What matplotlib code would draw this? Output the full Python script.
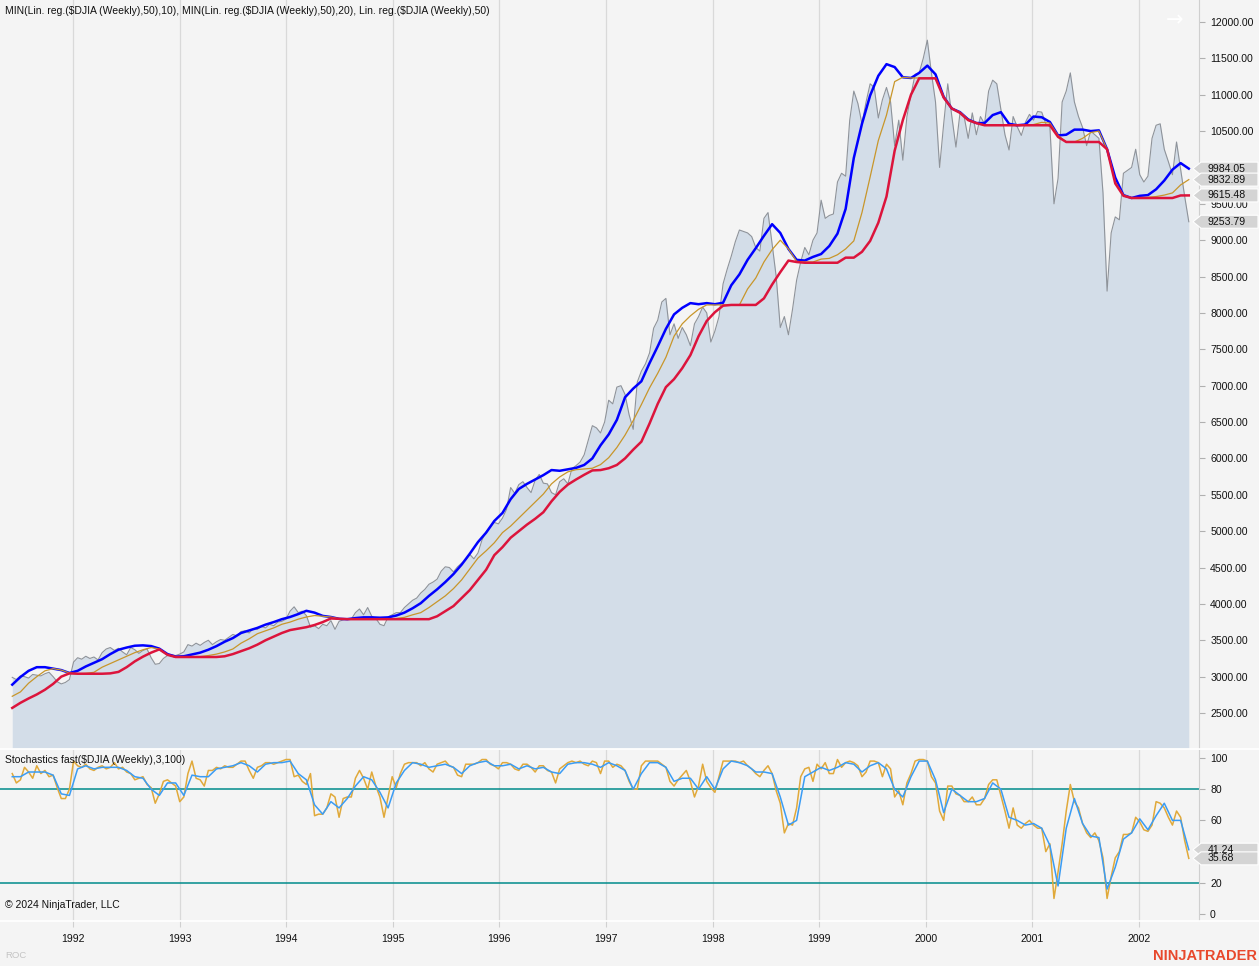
import matplotlib
matplotlib.use('Agg')
import matplotlib.pyplot as plt
import matplotlib.dates as mdates
import matplotlib.transforms as mtransforms
from matplotlib.patches import Polygon
from matplotlib.lines import Line2D
import numpy as np
import pandas as pd

plt.rcParams['font.family'] = ['Liberation Sans', 'DejaVu Sans']

price = [
    2990, 2960, 3010, 3000, 2980, 3030, 3020, 3010, 3040, 3060, 3000, 2930, 2900, 2920, 2960,
    # 1992
    3200, 3260, 3240, 3280, 3250, 3270, 3230, 3330, 3380, 3400, 3360, 3390, 3340,
    3300, 3400, 3370, 3320, 3360, 3380, 3260, 3170, 3180, 3250, 3290, 3300, 3290,
    # 1993
    3310, 3340, 3440, 3420, 3460, 3430, 3470, 3500, 3440, 3480, 3510, 3500, 3540, 3580,
    3560, 3620, 3630, 3600, 3660, 3650, 3690, 3670, 3720, 3700, 3750, 3760, 3790,
    # 1994
    3900, 3960, 3880, 3900, 3840, 3680, 3700, 3660, 3720, 3700, 3770, 3650, 3760,
    3780, 3800, 3790, 3880, 3930, 3850, 3950, 3830, 3800, 3720, 3700, 3820, 3850,
    # 1995
    3880, 3880, 3950, 4000, 4050, 4080, 4150, 4200, 4270, 4300, 4340, 4450, 4510,
    4500, 4440, 4510, 4560, 4600, 4680, 4620, 4700, 4880, 4990, 5060, 5120, 5100,
    # 1996
    5180, 5300, 5600, 5520, 5640, 5680, 5600, 5530, 5700, 5780, 5660, 5650, 5530,
    5500, 5680, 5720, 5650, 5860, 5900, 5950, 6050, 6250, 6450, 6420, 6350, 6500,
    # 1997
    6800, 6750, 6980, 7000, 6880, 6600, 6400, 7050, 7200, 7300, 7450, 7790, 7900,
    8150, 8200, 7700, 7850, 7650, 7800, 7700, 7550, 7850, 7950, 8080, 8000, 7600,
    # 1998
    7750, 7950, 8400, 8600, 8780, 8980, 9140, 9120, 9100, 9050, 8900, 8850, 9300,
    9380, 8950, 8500, 7800, 7950, 7700, 8050, 8450, 8700, 8900, 8800, 9000, 9100,
    # 1999
    9550, 9300, 9340, 9360, 9800, 9920, 9880, 10650, 11050, 10880, 10600, 10900, 11150,
    11100, 10680, 10930, 11100, 10900, 10300, 10650, 10100, 10700, 11000, 11280, 11300, 11500,
    # 2000
    11750, 11300, 10900, 10000, 10600, 11150, 10700, 10280, 10750, 10700, 10400, 10750, 10450,
    10700, 10600, 11050, 11200, 11150, 10800, 10450, 10240, 10700, 10560, 10440, 10620, 10730,
    # 2001
    10650, 10770, 10760, 10600, 10560, 9500, 9850, 10900, 11050, 11300, 10900, 10700, 10550,
    10300, 10500, 10450, 10400, 9650, 8300, 9100, 9320, 9280, 9920, 9960, 10000, 10250,
    # 2002
    9900, 9800, 9880, 10400, 10580, 10600, 10250, 10080, 9900, 10350, 9980, 9600, 9253.79,
]

# indicator lines, sampled every 4 weeks
linreg = [
    2890, 2995, 3080, 3130, 3130, 3110, 3090, 3050, 3080, 3140,
    3190, 3240, 3310, 3370, 3400, 3425, 3430, 3420, 3385, 3310,
    3275, 3280, 3305, 3330, 3370, 3420, 3480, 3530, 3600, 3635,
    3670, 3715, 3750, 3790, 3820, 3860, 3905, 3880, 3835, 3820,
    3795, 3790, 3805, 3815, 3815, 3810, 3815, 3840, 3880, 3940,
    4010, 4110, 4200, 4300, 4410, 4540, 4690, 4850, 4980, 5140,
    5250, 5440, 5580, 5650, 5710, 5770, 5840, 5830, 5850, 5870,
    5910, 6000, 6180, 6330, 6530, 6840, 6960, 7060, 7310, 7540,
    7780, 7980, 8070, 8135, 8120, 8135, 8120, 8140, 8380, 8530,
    8730, 8890, 9060, 9220, 9100, 8880, 8730, 8720, 8770, 8810,
    8920, 9090, 9430, 10130, 10600, 10990, 11260, 11420, 11380, 11240,
    11230, 11300, 11400, 11280, 10970, 10810, 10760, 10660, 10610, 10610,
    10720, 10760, 10600, 10580, 10590, 10700, 10690, 10625, 10440, 10450,
    10520, 10520, 10500, 10510, 10250, 9860, 9620, 9580, 9610, 9620,
    9700, 9820, 9970, 10060, 9984.05,
]
min10 = [
    2730, 2790, 2910, 3000, 3080, 3110, 3090, 3050, 3040, 3045,
    3060, 3130, 3180, 3230, 3280, 3330, 3370, 3400, 3380, 3300,
    3270, 3270, 3270, 3275, 3290, 3310, 3340, 3380, 3460, 3520,
    3590, 3630, 3670, 3720, 3750, 3790, 3820, 3840, 3830, 3820,
    3795, 3790, 3790, 3790, 3790, 3795, 3795, 3800, 3815, 3850,
    3880, 3950, 4030, 4110, 4210, 4330, 4480, 4630, 4730, 4840,
    4980, 5070, 5180, 5290, 5400, 5510, 5650, 5745, 5815, 5845,
    5855, 5865, 5915, 6010, 6150, 6320, 6520, 6740, 6970, 7170,
    7390, 7680, 7850, 7960, 8050, 8110, 8110, 8110, 8110, 8110,
    8330, 8480, 8700, 8870, 9000, 8880, 8710, 8700, 8700, 8740,
    8750, 8800, 8880, 8990, 9380, 9870, 10370, 10720, 11180, 11240,
    11230, 11230, 11230, 11230, 10970, 10810, 10760, 10660, 10610, 10580,
    10580, 10580, 10580, 10580, 10580, 10590, 10620, 10610, 10440, 10350,
    10350, 10400, 10480, 10500, 10250, 9800, 9620, 9580, 9580, 9590,
    9600, 9620, 9650, 9760, 9832.89,
]
min20 = [
    2570, 2640, 2700, 2755, 2820, 2900, 3000, 3045, 3040, 3040,
    3040, 3040, 3045, 3065, 3130, 3210, 3275, 3330, 3375, 3300,
    3270, 3270, 3270, 3270, 3270, 3270, 3280, 3310, 3350, 3390,
    3440, 3500, 3550, 3600, 3640, 3660, 3680, 3710, 3750, 3800,
    3795, 3790, 3790, 3790, 3790, 3790, 3790, 3790, 3790, 3790,
    3790, 3790, 3830, 3900, 3970, 4080, 4190, 4330, 4470, 4670,
    4780, 4910, 5000, 5090, 5170, 5260, 5410, 5540, 5640, 5710,
    5775, 5835, 5840, 5865, 5910, 6000, 6120, 6230, 6480, 6750,
    6980, 7090, 7240, 7420, 7680, 7890, 8010, 8100, 8110, 8110,
    8110, 8110, 8200, 8390, 8560, 8720, 8700, 8690, 8690, 8690,
    8690, 8690, 8760, 8760, 8840, 8990, 9240, 9600, 10230, 10650,
    11000, 11225, 11225, 11225, 10960, 10810, 10750, 10650, 10610, 10580,
    10580, 10580, 10580, 10580, 10580, 10580, 10580, 10580, 10420, 10350,
    10350, 10350, 10350, 10350, 10250, 9780, 9610, 9580, 9580, 9580,
    9580, 9580, 9580, 9615, 9615.48,
]

# stochastics fast: K every 2 weeks, D every 4 weeks
stoch_k = [
    90, 84, 86, 94, 91, 87, 95, 90, 92, 88, 89, 81, 74, 74, 80,
    98, 95, 94, 96, 93, 92, 94, 95, 93, 94, 97, 93, 94, 91, 90, 86, 87, 88, 83, 81, 71, 77, 85, 86, 84, 82,
    72, 75, 90, 98, 87, 86, 82, 92, 92, 94, 93, 95, 94, 94, 96, 98, 98, 92, 87, 94, 95, 97, 97, 96, 97, 98, 99,
    99, 88, 89, 85, 83, 90, 63, 64, 64, 68, 77, 75, 62, 74, 75, 75, 87, 92, 87, 80, 91, 82, 75, 62, 75, 88,
    81, 90, 96, 97, 97, 97, 95, 97, 93, 91, 96, 97, 98, 95, 94, 89, 88, 96, 96, 96, 97, 99, 99, 96, 95, 93,
    97, 97, 96, 93, 92, 96, 96, 94, 91, 95, 95, 92, 91, 84, 93, 95, 97, 98, 97, 98, 96, 95, 98, 97, 90, 98,
    98, 94, 96, 95, 92, 85, 80, 80, 95, 98, 98, 98, 98, 96, 94, 85, 82, 86, 89, 92, 85, 75, 82, 96, 85, 81,
    78, 88, 98, 98, 98, 98, 97, 98, 95, 93, 90, 88, 92, 95, 90, 79, 71, 52, 58, 57, 68, 88, 93, 94, 85, 96,
    93, 97, 90, 90, 99, 94, 97, 98, 97, 95, 88, 91, 98, 98, 97, 88, 96, 93, 75, 79, 70, 84, 90, 98, 99, 99,
    98, 88, 84, 66, 60, 82, 82, 77, 76, 72, 72, 75, 70, 70, 74, 83, 86, 86, 76, 66, 55, 68, 57, 55, 58, 60,
    57, 55, 55, 40, 45, 10, 27, 45, 66, 83, 72, 68, 58, 52, 49, 52, 47, 36, 10, 24, 36, 40, 51, 51, 52, 62,
    59, 54, 53, 57, 72, 71, 68, 62, 57, 66, 62, 47, 35.68,
]
stoch_d = [
    88, 88, 91, 91, 91, 89, 77, 76, 93, 95,
    93, 94, 94, 94, 92, 88, 87, 80, 76, 84,
    84, 76, 89, 88, 88, 93, 94, 95, 97, 95,
    91, 96, 97, 97, 98, 90, 86, 70, 64, 72,
    68, 74, 82, 88, 86, 78, 68, 84, 92, 97,
    96, 94, 95, 96, 94, 90, 95, 97, 98, 95,
    95, 96, 93, 95, 93, 94, 91, 90, 96, 97,
    97, 96, 94, 97, 95, 92, 80, 90, 97, 97,
    94, 85, 87, 87, 80, 88, 80, 93, 98, 97,
    95, 91, 91, 90, 75, 57, 60, 88, 91, 94,
    92, 94, 97, 96, 91, 95, 97, 93, 80, 75,
    88, 98, 98, 86, 65, 80, 76, 72, 72, 74,
    84, 80, 62, 60, 57, 58, 55, 44, 18, 55,
    74, 58, 50, 49, 16, 30, 48, 52, 61, 54,
    63, 71, 60, 60, 41.24,
]

title_top = ("MIN(Lin. reg.($DJIA (Weekly),50),10), MIN(Lin. reg.($DJIA (Weekly),50),20), "
             "Lin. reg.($DJIA (Weekly),50)")
title_bottom = "Stochastics fast($DJIA (Weekly),3,100)"

dates = pd.date_range(end='2002-06-21', periods=len(price), freq='14D')
dates4 = dates[::2]

BG = '#f4f4f4'
TXT = '#111111'
FS = 7.6
W, H = 1259, 966
AXR = 1199  # right edge of plot area in pixels
TOP_LIM = (2019, 12302)
BOT_LIM = (-3.8, 105.1)

fig = plt.figure(figsize=(W / 100, H / 100), dpi=100, facecolor=BG)
ax = fig.add_axes([0, (H - 748) / H, AXR / W, 748 / H], facecolor=BG)
ax2 = fig.add_axes([0, (H - 920) / H, AXR / W, 170 / H], facecolor=BG, sharex=ax)

# top panel
ax.fill_between(dates, price, TOP_LIM[0], color='#d3dde8', lw=0, zorder=1)
ax.plot(dates, price, color='#8e939a', lw=0.8, zorder=2)
ax.plot(dates4, linreg, color='#0000ff', lw=1.8, zorder=3)
ax.plot(dates4, min10, color='#c8962a', lw=0.9, zorder=3.5)
ax.plot(dates4, min20, color='#dc143c', lw=1.8, zorder=4)
ax.set_ylim(*TOP_LIM)

# bottom panel
ax2.axhline(80, color='#008b8b', lw=1.1, zorder=2)
ax2.axhline(20, color='#008b8b', lw=1.1, zorder=2)
ax2.plot(dates, stoch_k, color='#e0a93a', lw=1.1, zorder=3)
ax2.plot(dates4, stoch_d, color='#3a9cf5', lw=1.1, zorder=4)
ax2.set_ylim(*BOT_LIM)

ax.set_xlim(dates[0] - pd.Timedelta(days=42), dates[-1] + pd.Timedelta(days=35))

for a in (ax, ax2):
    a.grid(axis='x', color='#d9d9d9', lw=0.9)
    a.set_axisbelow(True)
    for s in ('top', 'left', 'bottom'):
        a.spines[s].set_visible(False)
    a.spines['right'].set_color('#cfcfcf')
    a.spines['right'].set_linewidth(0.8)
    a.yaxis.tick_right()
    a.tick_params(axis='y', length=4, color='#b0b0b0', pad=4, labelsize=FS,
                  labelcolor=TXT)

ax.set_yticks(np.arange(2500, 12001, 500))
ax.yaxis.set_major_formatter(plt.FuncFormatter(lambda v, p: f'{v:.2f}'))
ax.tick_params(axis='x', length=0, labelbottom=False)

ax2.set_yticks([0, 20, 40, 60, 80, 100])
ax2.xaxis.set_major_locator(mdates.YearLocator())
ax2.xaxis.set_major_formatter(mdates.DateFormatter('%Y'))
ax2.tick_params(axis='x', length=5, color='#d0d0d0', pad=5, labelsize=FS,
                labelcolor=TXT)


def value_box(axis, v, px_per_unit):
    tr = mtransforms.blended_transform_factory(axis.transAxes, axis.transData)
    h = 6.5 / px_per_unit
    xt, xb, xr = 1193 / AXR, 1201 / AXR, 1258 / AXR
    poly = Polygon([(xt, v), (xb, v + h), (xr, v + h), (xr, v - h), (xb, v - h)],
                   closed=True, transform=tr, facecolor='#d4d4d4', edgecolor='white',
                   lw=0.8, clip_on=False, zorder=5)
    axis.add_patch(poly)
    axis.text(1208 / AXR, v, f'{v:.2f}', transform=tr, fontsize=FS, color=TXT,
              va='center', ha='left', clip_on=False, zorder=6)


top_ppu = 748 / (TOP_LIM[1] - TOP_LIM[0])
bot_ppu = 170 / (BOT_LIM[1] - BOT_LIM[0])
for v in (linreg[-1], min10[-1], min20[-1], price[-1]):
    value_box(ax, v, top_ppu)
for v in (stoch_d[-1], stoch_k[-1]):
    value_box(ax2, v, bot_ppu)

# texts
ax.text(5 / AXR, 1 - 11 / 748, title_top, transform=ax.transAxes, fontsize=7.5,
        color=TXT, va='center', ha='left')
ax.text(1175 / AXR, 1 - 20 / 748, '\u2192', transform=ax.transAxes, fontsize=15,
        color='white', va='center', ha='center', family='DejaVu Sans')
ax2.text(5 / AXR, 1 - 10 / 170, title_bottom, transform=ax2.transAxes, fontsize=7.5,
         color=TXT, va='center', ha='left', zorder=7)
ax2.text(5 / AXR, 15 / 170, '\u00a9 2024 NinjaTrader, LLC', transform=ax2.transAxes,
         fontsize=7.5, color=TXT, va='center', ha='left')
fig.text(5 / W, 1 - 956 / H, 'ROC', fontsize=6.8, color='#c4c4c4', va='center', ha='left')
fig.text(1257 / W, 1 - 956 / H, 'NINJATRADER', fontsize=10.5, fontweight='bold',
         color='#e8482c', va='center', ha='right')

# panel separators
for yp in (748.5, 920.5):
    fig.add_artist(Line2D([0, 1], [1 - yp / H] * 2, color='white', lw=1.2,
                          transform=fig.transFigure))

fig.savefig('out.png', dpi=100, facecolor=BG)
